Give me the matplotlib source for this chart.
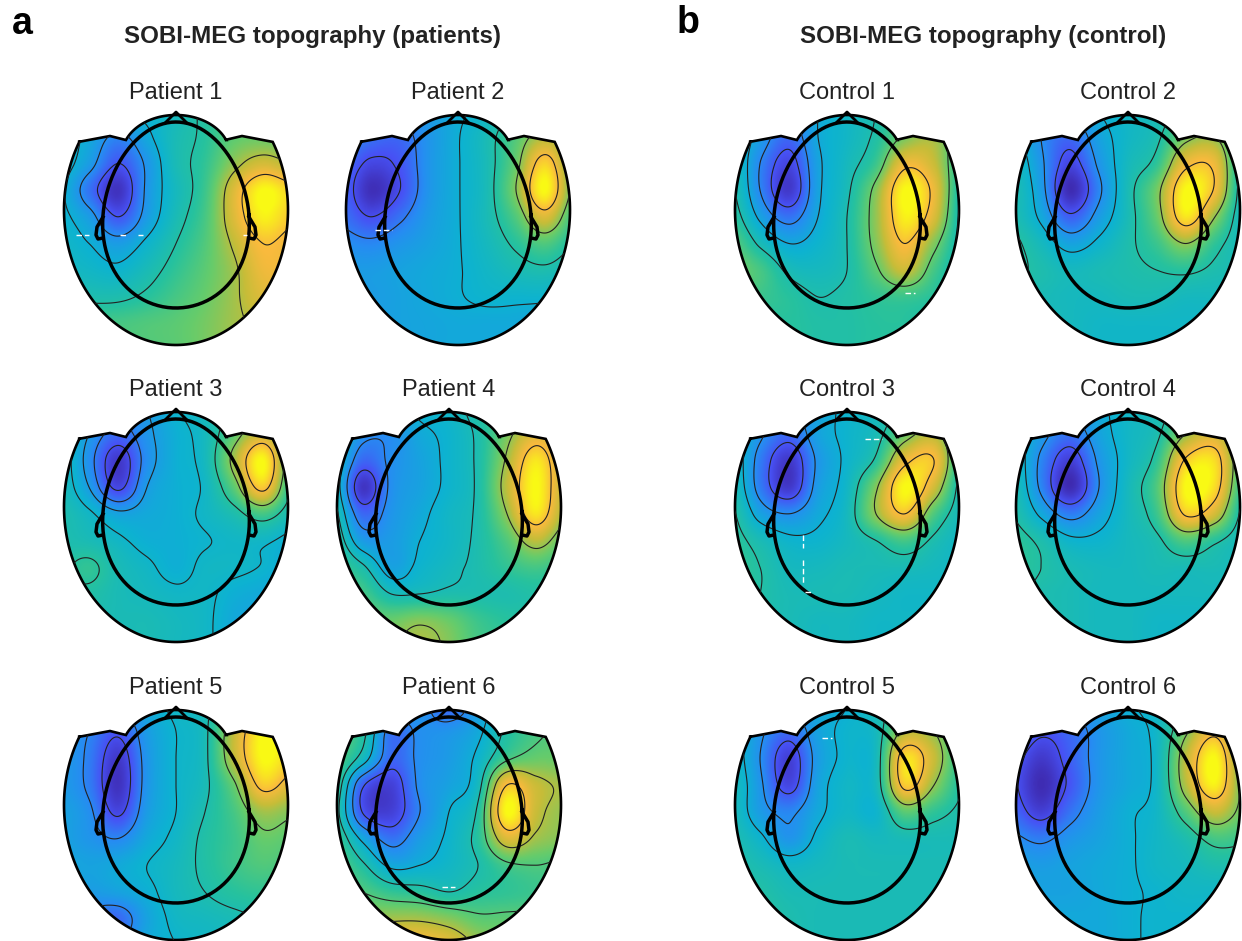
import numpy as np
import matplotlib
matplotlib.use('Agg')
import matplotlib.pyplot as plt
from matplotlib.colors import LinearSegmentedColormap
from matplotlib.patches import Polygon

plt.rcParams['font.family'] = ['Liberation Sans', 'DejaVu Sans']

# field values, 0 = darkest blue, 100 = yellow
# rows go from the top of the helmet to the bottom, columns left to right
patient_1 = [[38, 38, 38, 38, 42, 50, 55, 60, 60],
             [40, 34, 24, 34, 44, 50, 60, 62, 60],
             [40, 30, 14, 28, 44, 52, 68, 78, 72],
             [38, 20, 4, 28, 42, 54, 80, 100, 92],
             [38, 30, 14, 30, 44, 56, 80, 98, 90],
             [40, 36, 30, 38, 48, 58, 74, 88, 84],
             [42, 40, 38, 44, 52, 60, 70, 84, 84],
             [48, 46, 46, 50, 56, 62, 70, 80, 80],
             [55, 55, 56, 58, 60, 64, 70, 74, 74],
             [55, 55, 56, 58, 60, 64, 70, 74, 74]]
patient_2 = [[30, 25, 25, 30, 35, 40, 50, 60, 60],
             [28, 20, 18, 28, 36, 44, 58, 72, 62],
             [20, 10, 14, 28, 36, 44, 62, 92, 62],
             [18, 3, 12, 28, 36, 44, 66, 100, 62],
             [20, 12, 20, 30, 36, 44, 58, 80, 55],
             [26, 24, 28, 32, 36, 42, 50, 58, 48],
             [30, 30, 32, 34, 36, 40, 44, 46, 42],
             [30, 30, 32, 34, 36, 38, 38, 38, 36],
             [30, 30, 32, 33, 34, 34, 34, 32, 30],
             [30, 30, 32, 33, 34, 34, 34, 32, 30]]
patient_3 = [[42, 36, 28, 30, 38, 42, 50, 55, 50],
             [44, 30, 18, 28, 36, 42, 60, 76, 55],
             [44, 26, 6, 26, 36, 42, 70, 100, 55],
             [44, 30, 10, 30, 36, 40, 60, 90, 50],
             [46, 40, 32, 34, 36, 40, 46, 56, 44],
             [46, 44, 40, 36, 36, 38, 40, 40, 36],
             [48, 52, 44, 40, 36, 40, 40, 38, 34],
             [48, 48, 44, 42, 40, 40, 36, 34, 32],
             [46, 46, 44, 44, 42, 40, 34, 32, 30],
             [46, 46, 44, 44, 42, 40, 34, 32, 30]]
patient_4 = [[50, 40, 35, 38, 40, 48, 55, 62, 60],
             [46, 28, 26, 34, 38, 46, 64, 80, 70],
             [44, 18, 26, 32, 38, 46, 70, 96, 74],
             [44, 5, 26, 32, 38, 46, 74, 100, 74],
             [48, 18, 28, 34, 40, 46, 68, 96, 70],
             [52, 30, 30, 36, 40, 46, 58, 74, 60],
             [56, 46, 32, 38, 42, 46, 52, 56, 52],
             [60, 56, 44, 44, 46, 46, 46, 48, 46],
             [60, 62, 62, 66, 62, 54, 50, 48, 46],
             [60, 62, 66, 72, 66, 56, 52, 48, 46]]
patient_5 = [[34, 28, 26, 34, 40, 44, 60, 96, 90],
             [30, 24, 14, 30, 38, 44, 74, 100, 95],
             [30, 22, 6, 28, 38, 44, 74, 100, 92],
             [30, 22, 4, 28, 38, 44, 62, 90, 80],
             [32, 26, 10, 30, 38, 46, 56, 70, 66],
             [32, 28, 24, 34, 40, 48, 54, 62, 60],
             [34, 32, 34, 38, 42, 48, 54, 58, 56],
             [34, 30, 32, 36, 42, 46, 50, 52, 50],
             [30, 22, 18, 32, 40, 42, 44, 46, 46],
             [30, 24, 24, 34, 38, 40, 42, 42, 42]]
patient_6 = [[60, 55, 32, 28, 17, 30, 46, 55, 58],
             [62, 50, 20, 26, 28, 34, 48, 56, 60],
             [60, 42, 18, 26, 30, 38, 56, 62, 62],
             [56, 16, 8, 26, 32, 42, 88, 76, 70],
             [52, 14, 8, 24, 36, 48, 100, 76, 68],
             [56, 34, 20, 30, 38, 50, 80, 70, 66],
             [60, 48, 34, 36, 40, 46, 56, 58, 56],
             [62, 58, 52, 50, 46, 50, 52, 54, 56],
             [66, 68, 70, 70, 66, 60, 60, 60, 60],
             [72, 78, 86, 88, 82, 70, 64, 62, 62]]
control_1 = [[45, 30, 25, 34, 40, 46, 55, 58, 50],
             [44, 30, 18, 34, 40, 48, 64, 70, 50],
             [46, 24, 10, 32, 42, 54, 84, 76, 48],
             [48, 24, 6, 32, 44, 66, 100, 84, 44],
             [52, 32, 20, 34, 46, 68, 98, 80, 42],
             [60, 44, 34, 38, 46, 66, 88, 66, 42],
             [64, 56, 44, 42, 46, 60, 76, 56, 42],
             [58, 54, 50, 46, 48, 52, 54, 50, 42],
             [52, 50, 50, 48, 48, 50, 50, 46, 42],
             [52, 50, 50, 48, 48, 50, 50, 46, 42]]
control_2 = [[40, 28, 28, 36, 40, 44, 50, 55, 48],
             [40, 26, 18, 32, 40, 46, 64, 68, 44],
             [44, 28, 10, 28, 42, 52, 84, 84, 42],
             [46, 30, 2, 24, 44, 64, 100, 86, 40],
             [46, 34, 16, 30, 44, 62, 96, 68, 40],
             [50, 42, 32, 38, 46, 54, 68, 52, 42],
             [50, 46, 42, 44, 46, 48, 50, 46, 44],
             [46, 44, 42, 42, 44, 44, 42, 42, 42],
             [44, 44, 42, 40, 40, 40, 40, 40, 40],
             [44, 44, 42, 40, 40, 40, 40, 40, 40]]
control_3 = [[42, 30, 24, 32, 38, 42, 50, 54, 48],
             [42, 28, 18, 32, 38, 44, 62, 72, 48],
             [44, 22, 6, 28, 38, 50, 84, 88, 46],
             [46, 22, 6, 30, 40, 66, 100, 78, 42],
             [50, 32, 26, 34, 42, 68, 88, 58, 42],
             [52, 44, 38, 38, 42, 48, 56, 46, 40],
             [54, 48, 42, 42, 44, 44, 44, 42, 40],
             [54, 48, 44, 44, 44, 42, 40, 40, 40],
             [48, 46, 44, 42, 42, 40, 40, 40, 38],
             [48, 46, 44, 42, 42, 40, 40, 40, 38]]
control_4 = [[44, 34, 28, 34, 40, 44, 52, 60, 52],
             [42, 30, 20, 32, 40, 46, 68, 78, 54],
             [44, 24, 8, 28, 40, 52, 90, 94, 54],
             [46, 24, 2, 26, 42, 58, 100, 94, 50],
             [48, 34, 22, 32, 42, 54, 90, 78, 44],
             [52, 46, 38, 38, 42, 46, 58, 50, 42],
             [52, 48, 44, 42, 42, 44, 44, 44, 42],
             [50, 46, 44, 42, 42, 42, 42, 42, 40],
             [46, 46, 44, 42, 42, 40, 40, 40, 40],
             [46, 46, 44, 42, 42, 40, 40, 40, 40]]
control_5 = [[40, 30, 28, 34, 36, 44, 52, 58, 50],
             [40, 28, 18, 32, 38, 42, 72, 68, 50],
             [42, 26, 8, 30, 38, 42, 94, 76, 50],
             [44, 28, 10, 32, 40, 42, 90, 68, 48],
             [44, 30, 24, 34, 40, 38, 60, 52, 46],
             [46, 38, 28, 38, 44, 42, 44, 44, 44],
             [48, 44, 40, 42, 44, 44, 44, 44, 44],
             [50, 48, 44, 44, 44, 44, 44, 44, 44],
             [52, 50, 46, 44, 44, 44, 44, 44, 44],
             [52, 50, 46, 44, 44, 44, 44, 44, 44]]
control_6 = [[32, 24, 24, 32, 36, 40, 48, 60, 50],
             [24, 14, 18, 28, 34, 40, 64, 84, 55],
             [16, 6, 16, 28, 34, 40, 74, 100, 60],
             [14, 2, 14, 28, 34, 40, 72, 98, 62],
             [18, 8, 20, 30, 36, 40, 58, 76, 62],
             [26, 22, 28, 32, 36, 40, 46, 56, 54],
             [32, 30, 32, 34, 36, 40, 42, 46, 46],
             [34, 32, 32, 34, 36, 38, 40, 40, 40],
             [36, 34, 34, 34, 36, 38, 38, 38, 38],
             [36, 34, 34, 34, 36, 38, 38, 38, 38]]

names = ['Patient 1', 'Patient 2', 'Patient 3', 'Patient 4', 'Patient 5', 'Patient 6',
         'Control 1', 'Control 2', 'Control 3', 'Control 4', 'Control 5', 'Control 6']
fields = [patient_1, patient_2, patient_3, patient_4, patient_5, patient_6,
          control_1, control_2, control_3, control_4, control_5, control_6]
center_x = [176, 458, 176, 449, 176, 449, 847, 1128, 847, 1128, 847, 1128]
center_y = [215, 215, 512, 512, 810, 810, 215, 215, 512, 512, 810, 810]
# contour levels differ from panel to panel in the reference
panel_levels = [[14, 26, 36, 48, 72, 88],
                [12, 22, 36.5, 48, 66, 86],
                [12, 22, 30, 38.5, 50, 66, 86],
                [12, 24, 36, 44, 68, 88],
                [12, 24, 38, 46, 64, 86],
                [14, 24, 36, 46, 58, 72, 88],
                [14, 24, 34, 46, 62, 88],
                [14, 26, 36, 48, 68, 88],
                [14, 26, 36, 48, 68, 88],
                [14, 26, 36, 48, 68, 88],
                [14, 26, 36, 48, 68, 86],
                [12, 24, 37, 52, 66, 88]]
# little white gaps in the reference maps: x0, x1, y0, y1 in pixels
gap_x0 = [76, 120, 138, 243, 375, 442, 905, 865, 805, 822, 803, 803]
gap_x1 = [89, 127, 143, 247, 392, 455, 915, 882, 812, 832, 803, 803]
gap_y0 = [235, 235, 235, 235, 230, 887, 293, 439, 592, 738, 535, 560]
gap_y1 = [235, 235, 235, 235, 230, 887, 293, 439, 592, 738, 548, 585]

W, H = 1242, 941
grid_x = np.arange(-116, 117, 29.0)
grid_y = 105 - 26.7 * np.arange(10)

parula = LinearSegmentedColormap.from_list('parula', [
    (0.0, (0.24, 0.15, 0.66)), (0.13, (0.28, 0.32, 0.96)), (0.25, (0.15, 0.55, 0.95)),
    (0.37, (0.05, 0.70, 0.82)), (0.5, (0.15, 0.76, 0.62)), (0.62, (0.40, 0.80, 0.42)),
    (0.75, (0.78, 0.74, 0.22)), (0.87, (0.98, 0.73, 0.24)), (1.0, (0.98, 0.98, 0.08))])


def cubic_weights(coarse, fine):
    # catmull-rom weights from the coarse grid to the fine one
    n = len(coarse)
    step = coarse[1] - coarse[0]
    out = np.zeros((len(fine), n))
    for k, f in enumerate(fine):
        u = np.clip((f - coarse[0]) / step, 0, n - 1.001)
        i = int(u)
        t = u - i
        w = [0.5 * (-t + 2 * t**2 - t**3), 0.5 * (2 - 5 * t**2 + 3 * t**3),
             0.5 * (t + 4 * t**2 - 3 * t**3), 0.5 * (-t**2 + t**3)]
        for j, v in zip([i - 1, i, i + 1, i + 2], w):
            out[k, min(max(j, 0), n - 1)] += v
    return out


def helmet_outline():
    low = np.radians(np.linspace(149.7, 390.3, 160))
    top = np.radians(np.linspace(22.0, 158.0, 60))
    x = np.r_[112 * np.cos(low), 66, 49, 54 * np.cos(top), -66, -98]
    y = np.r_[5 + 135 * np.sin(low), 79, 75, 60 + 40 * np.sin(top), 79, 73]
    return np.c_[x, y]


def head_outline():
    t = np.linspace(0, 2 * np.pi, 200)
    return 73 * np.cos(t) * (1 - 0.1 * np.sin(t)), 93 * np.sin(t)


nose_x, nose_y = [-11, 0, 11], [92, 103, 92]
ear_x, ear_y = [-73, -79, -80, -78, -73], [-2, -12, -20, -24, -23]

fig = plt.figure(figsize=(W / 100, H / 100), dpi=100)
fx = np.arange(-125, 125.5, 1.0)
fy = np.arange(125, -135.5, -1.0)
wx = cubic_weights(grid_x, fx)
wy = cubic_weights(-grid_y, -fy)

for name, field, cx, cy, levels in zip(names, fields, center_x, center_y, panel_levels):
    ax = fig.add_axes([(cx - 125) / W, 1 - (cy + 135) / H, 250 / W, 260 / H])
    z = wy @ np.array(field, dtype=float) @ wx.T
    clip = Polygon(helmet_outline(), closed=True, transform=ax.transData, fc='none')
    im = ax.imshow(z, extent=[-125, 125, -135, 125], cmap=parula, vmin=0, vmax=100,
                   aspect='auto', interpolation='bilinear')
    im.set_clip_path(clip)
    cs = ax.contour(fx, fy, z, levels=levels, colors='#222222', linewidths=0.8)
    cs.set_clip_path(clip)
    ax.add_patch(Polygon(helmet_outline(), closed=True, fc='none', ec='black', lw=1.9))
    hx, hy = head_outline()
    ax.plot(hx, hy, color='black', lw=2.5)
    ax.plot(nose_x, nose_y, color='black', lw=2.0)
    ax.plot(ear_x, ear_y, color='black', lw=2.5)
    ax.plot(-np.array(ear_x), ear_y, color='black', lw=2.5)
    ax.set_xlim(-125, 125)
    ax.set_ylim(-135, 125)
    ax.axis('off')
    fig.text(cx / W, 1 - (cy - 122) / H, name, ha='center', va='center', fontsize=17, color='#222222')

over = fig.add_axes([0, 0, 1, 1])
over.set_xlim(0, W)
over.set_ylim(H, 0)
over.axis('off')
for x0, x1, y0, y1 in zip(gap_x0, gap_x1, gap_y0, gap_y1):
    over.plot([x0, x1], [y0, y1], color='white', lw=1.0, ls=(0, (4, 2)))

fig.text(312 / W, 1 - 37 / H, 'SOBI-MEG topography (patients)', ha='center', va='center',
         fontsize=17.4, fontweight='bold', color='#222222')
fig.text(983 / W, 1 - 37 / H, 'SOBI-MEG topography (control)', ha='center', va='center',
         fontsize=17.4, fontweight='bold', color='#222222')
fig.text(22 / W, 1 - 24 / H, 'a', ha='center', va='center', fontsize=27, fontweight='bold')
fig.text(688 / W, 1 - 23 / H, 'b', ha='center', va='center', fontsize=27, fontweight='bold')

fig.savefig('out.png', dpi=100)
